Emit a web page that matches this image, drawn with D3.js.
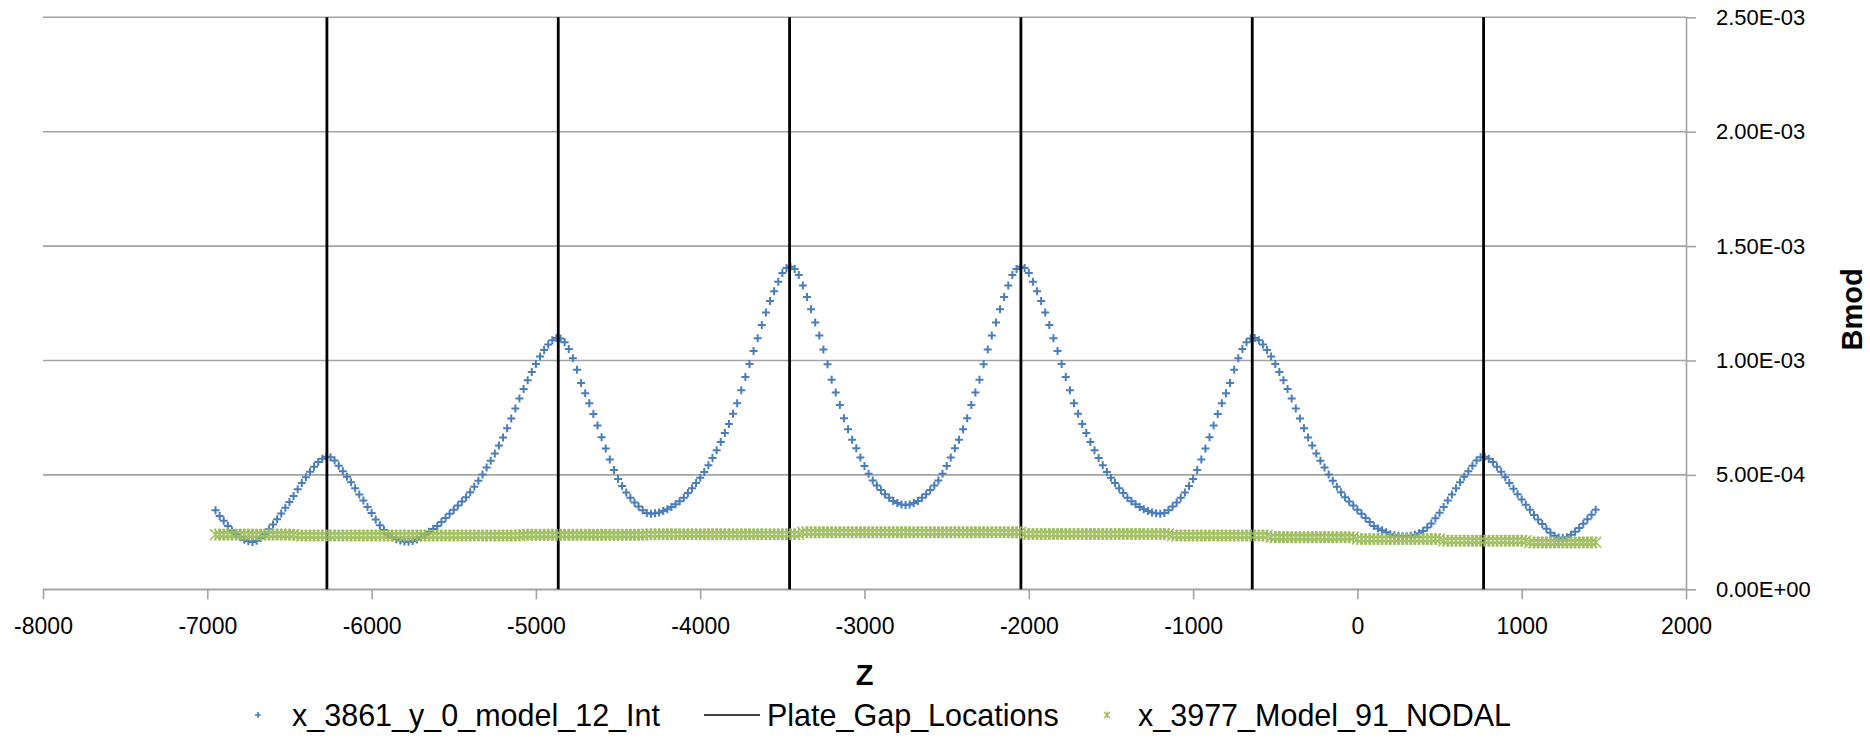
<!DOCTYPE html>
<html><head><meta charset="utf-8">
<script src="https://cdn.jsdelivr.net/npm/d3@7"></script>
<style>html,body{margin:0;padding:0;background:#fff;}svg{display:block;}</style>
</head><body>
<svg id="chart" width="1870" height="750"></svg>
<script>
// ---- DATA ----
const zValues = [
-6950,-6925,-6900,-6875,-6850,-6825,-6800,-6775,-6750,-6725,
-6700,-6675,-6650,-6625,-6600,-6575,-6550,-6525,-6500,-6475,
-6450,-6425,-6400,-6375,-6350,-6325,-6300,-6275,-6250,-6225,
-6200,-6175,-6150,-6125,-6100,-6075,-6050,-6025,-6000,-5975,
-5950,-5925,-5900,-5875,-5850,-5825,-5800,-5775,-5750,-5725,
-5700,-5675,-5650,-5625,-5600,-5575,-5550,-5525,-5500,-5475,
-5450,-5425,-5400,-5375,-5350,-5325,-5300,-5275,-5250,-5225,
-5200,-5175,-5150,-5125,-5100,-5075,-5050,-5025,-5000,-4975,
-4950,-4925,-4900,-4875,-4850,-4825,-4800,-4775,-4750,-4725,
-4700,-4675,-4650,-4625,-4600,-4575,-4550,-4525,-4500,-4475,
-4450,-4425,-4400,-4375,-4350,-4325,-4300,-4275,-4250,-4225,
-4200,-4175,-4150,-4125,-4100,-4075,-4050,-4025,-4000,-3975,
-3950,-3925,-3900,-3875,-3850,-3825,-3800,-3775,-3750,-3725,
-3700,-3675,-3650,-3625,-3600,-3575,-3550,-3525,-3500,-3475,
-3450,-3425,-3400,-3375,-3350,-3325,-3300,-3275,-3250,-3225,
-3200,-3175,-3150,-3125,-3100,-3075,-3050,-3025,-3000,-2975,
-2950,-2925,-2900,-2875,-2850,-2825,-2800,-2775,-2750,-2725,
-2700,-2675,-2650,-2625,-2600,-2575,-2550,-2525,-2500,-2475,
-2450,-2425,-2400,-2375,-2350,-2325,-2300,-2275,-2250,-2225,
-2200,-2175,-2150,-2125,-2100,-2075,-2050,-2025,-2000,-1975,
-1950,-1925,-1900,-1875,-1850,-1825,-1800,-1775,-1750,-1725,
-1700,-1675,-1650,-1625,-1600,-1575,-1550,-1525,-1500,-1475,
-1450,-1425,-1400,-1375,-1350,-1325,-1300,-1275,-1250,-1225,
-1200,-1175,-1150,-1125,-1100,-1075,-1050,-1025,-1000,-975,
-950,-925,-900,-875,-850,-825,-800,-775,-750,-725,
-700,-675,-650,-625,-600,-575,-550,-525,-500,-475,
-450,-425,-400,-375,-350,-325,-300,-275,-250,-225,
-200,-175,-150,-125,-100,-75,-50,-25,0,25,
50,75,100,125,150,175,200,225,250,275,
300,325,350,375,400,425,450,475,500,525,
550,575,600,625,650,675,700,725,750,775,
800,825,850,875,900,925,950,975,1000,1025,
1050,1075,1100,1125,1150,1175,1200,1225,1250,1275,
1300,1325,1350,1375,1400,1425,1450
];
// Bmod of x_3861_y_0_model_12_Int, in units of 1e-6
const bmodIntMicro = [
345,320,300,277,257,241,228,217,210,207,
212,224,242,262,283,306,331,356,382,408,
437,465,490,514,536,556,571,579,577,563,
540,516,492,468,442,414,388,360,333,305,
280,259,240,228,219,213,209,208,211,218,
228,240,252,264,277,294,312,330,348,366,
384,402,424,448,474,502,532,562,594,628,
664,704,746,790,834,875,914,950,985,1018,
1046,1070,1088,1098,1096,1080,1050,1010,960,902,
857,813,766,716,665,615,567,521,482,452,
423,400,379,362,346,334,330,332,336,342,
350,360,372,385,400,421,442,465,488,513,
542,574,608,644,683,723,767,813,870,928,
985,1042,1097,1155,1210,1260,1303,1344,1382,1404,
1410,1400,1374,1328,1278,1224,1166,1109,1048,984,
916,860,806,748,699,654,616,576,539,505,
476,454,434,415,400,386,377,371,368,371,
377,386,400,415,434,454,476,505,539,576,
616,654,699,748,806,860,916,984,1048,1109,
1166,1224,1278,1328,1374,1400,1410,1404,1382,1344,
1303,1260,1210,1155,1097,1042,985,928,870,813,
767,723,683,644,608,574,542,513,488,465,
442,421,400,385,372,360,350,342,336,332,
330,334,346,362,379,400,423,452,482,521,
567,615,665,716,766,813,857,902,960,1010,
1050,1080,1096,1098,1088,1070,1046,1018,985,950,
914,875,834,790,746,704,664,628,594,562,
532,502,474,448,424,402,384,366,348,330,
312,294,277,266,258,249,241,236,233,232,
232,234,238,245,255,270,288,310,335,360,
388,414,442,468,492,516,540,563,577,579,
571,556,536,514,490,465,440,415,392,370,
348,325,305,285,265,247,234,226,224,228,
238,252,268,287,306,326,348
];
// Bmod of x_3977_Model_91_NODAL, in units of 1e-6
const bmodNodalMicro = [
239,239,239,239,239,239,239,239,239,239,
239,239,239,239,239,239,239,239,239,239,
235,235,235,235,235,235,235,235,235,235,
235,235,235,235,235,235,235,235,235,235,
235,235,235,235,235,235,235,235,235,235,
235,235,235,235,235,235,235,235,235,235,
235,235,235,235,235,235,235,235,235,235,
235,235,235,235,235,238,238,238,238,238,
238,238,238,238,238,238,238,238,238,238,
238,238,238,238,238,238,238,238,238,238,
238,238,238,238,238,241,241,241,241,241,
241,241,241,241,241,241,241,241,241,241,
241,241,241,241,241,241,241,241,241,241,
241,241,241,241,241,241,241,241,241,241,
241,241,241,249,249,249,249,249,249,249,
249,249,249,249,249,249,249,249,249,249,
249,249,249,249,249,249,249,249,249,249,
249,249,249,249,249,249,249,249,249,249,
249,249,249,249,249,249,249,249,249,249,
249,249,249,249,249,249,249,242,242,242,
242,242,242,242,242,242,242,242,242,242,
242,242,242,242,242,242,242,242,242,242,
242,242,242,242,242,242,242,242,242,242,
242,242,242,235,235,235,235,235,235,235,
235,235,235,235,235,235,235,235,235,235,
235,235,235,235,235,235,235,228,228,228,
228,228,228,228,228,228,228,228,228,228,
228,228,228,228,228,228,228,228,220,220,
220,220,220,220,220,220,220,220,220,220,
220,220,220,220,220,220,220,220,220,212,
212,212,212,212,212,212,212,212,212,212,
212,212,212,212,212,212,212,212,212,212,
205,205,205,205,205,205,205,205,205,205,
205,205,205,205,205,205,205
];
const plateGapZ = [-6272, -4864, -3456, -2048, -640, 768];
const plateGapBmod = [0, 0.0025];
const xTicks = [-8000,-7000,-6000,-5000,-4000,-3000,-2000,-1000,0,1000,2000];
const yTicks = [0, 0.0005, 0.001, 0.0015, 0.002, 0.0025];
const yTickLabels = ["0.00E+00","5.00E-04","1.00E-03","1.50E-03","2.00E-03","2.50E-03"];
const seriesNames = ["x_3861_y_0_model_12_Int","Plate_Gap_Locations","x_3977_Model_91_NODAL"];
const xTitle = "Z", yTitle = "Bmod";

// ---- CHART ----
const FONT = "'Liberation Sans', Arial, sans-serif";
const blue = "#4a7ebb", green = "#9bbb59", gridC = "#a3a3a3";
const svg = d3.select("#chart");
const x = d3.scaleLinear().domain([-8000, 2000]).range([43, 1686]);
const y = d3.scaleLinear().domain([0, 0.0025]).range([589.3, 17.3]);

const intPts = zValues.map((z, i) => ({z, b: bmodIntMicro[i] * 1e-6}));
const nodPts = zValues.map((z, i) => ({z, b: bmodNodalMicro[i] * 1e-6}));

// gridlines
svg.append("g").selectAll("line").data(yTicks).join("line")
  .attr("x1", x(-8000)).attr("x2", x(2000))
  .attr("y1", d => y(d)).attr("y2", d => y(d))
  .attr("stroke", gridC).attr("stroke-width", 1.6);

// x axis
const xAxis = svg.append("g").attr("transform", `translate(0,${y(0)})`)
  .call(d3.axisBottom(x).tickValues(xTicks).tickFormat(d => String(d))
        .tickSize(10).tickSizeOuter(0).tickPadding(18));
xAxis.select(".domain").attr("stroke", gridC).attr("stroke-width", 1.6);
xAxis.selectAll(".tick line").attr("stroke", gridC).attr("stroke-width", 1.6);
xAxis.selectAll("text").attr("font-family", FONT).attr("font-size", 23).attr("fill", "#000");

// y axis (right)
const yAxis = svg.append("g").attr("transform", `translate(${x(2000)},0)`)
  .call(d3.axisRight(y).tickValues(yTicks).tickFormat((d, i) => yTickLabels[i])
        .tickSize(10).tickSizeOuter(0).tickPadding(20));
yAxis.select(".domain").attr("stroke", gridC).attr("stroke-width", 1.6);
yAxis.selectAll(".tick line").attr("stroke", gridC).attr("stroke-width", 1.6);
yAxis.selectAll("text").attr("font-family", FONT).attr("font-size", 22).attr("fill", "#000");

// series 1: blue plus markers
const plusPath = "M-4,0H4M0,-4V4";
svg.append("g").selectAll("path").data(intPts).join("path")
  .attr("d", plusPath)
  .attr("transform", d => `translate(${x(d.z)},${y(d.b)})`)
  .attr("stroke", blue).attr("stroke-width", 2).attr("fill", "none");

// series 2: plate gap lines
svg.append("g").selectAll("line").data(plateGapZ).join("line")
  .attr("x1", d => x(d)).attr("x2", d => x(d))
  .attr("y1", y(plateGapBmod[0])).attr("y2", y(plateGapBmod[1]))
  .attr("stroke", "#000").attr("stroke-width", 2.8);

// series 3: green star markers
const starPath = "M-5.5,-5.5L5.5,5.5M-5.5,5.5L5.5,-5.5M0,-6V6";
svg.append("g").selectAll("path").data(nodPts).join("path")
  .attr("d", starPath)
  .attr("transform", d => `translate(${x(d.z)},${y(d.b)})`)
  .attr("stroke", green).attr("stroke-width", 1.5).attr("stroke-opacity", 0.9).attr("fill", "none");

// axis titles
svg.append("text").attr("x", (x(-8000) + x(2000)) / 2).attr("y", 675)
  .attr("text-anchor", "middle").attr("dominant-baseline", "central")
  .attr("font-family", FONT).attr("font-weight", "bold").attr("font-size", 29)
  .text(xTitle);
svg.append("text").attr("transform", `translate(1852,${(y(0) + y(0.0025)) / 2 + 6}) rotate(-90)`)
  .attr("text-anchor", "middle").attr("dominant-baseline", "central")
  .attr("font-family", FONT).attr("font-weight", "bold").attr("font-size", 29)
  .text(yTitle);

// legend
const LY = 715;
const lg = svg.append("g").attr("font-family", FONT).attr("font-size", 30.5);
lg.append("path").attr("d", "M-3,0H3M0,-3V3").attr("transform", `translate(258,${LY})`)
  .attr("stroke", blue).attr("stroke-width", 1.6);
lg.append("text").attr("x", 292).attr("y", LY).attr("dominant-baseline", "central").text(seriesNames[0]);
lg.append("line").attr("x1", 704).attr("x2", 760).attr("y1", LY).attr("y2", LY)
  .attr("stroke", "#000").attr("stroke-width", 1.6);
lg.append("text").attr("x", 767).attr("y", LY).attr("dominant-baseline", "central").text(seriesNames[1]);
lg.append("path").attr("d", "M-3,-3L3,3M-3,3L3,-3M0,-3.5V3.5").attr("transform", `translate(1107,${LY})`)
  .attr("stroke", green).attr("stroke-width", 1.2).attr("fill", "none");
lg.append("text").attr("x", 1138).attr("y", LY).attr("dominant-baseline", "central").text(seriesNames[2]);
</script>
</body></html>
